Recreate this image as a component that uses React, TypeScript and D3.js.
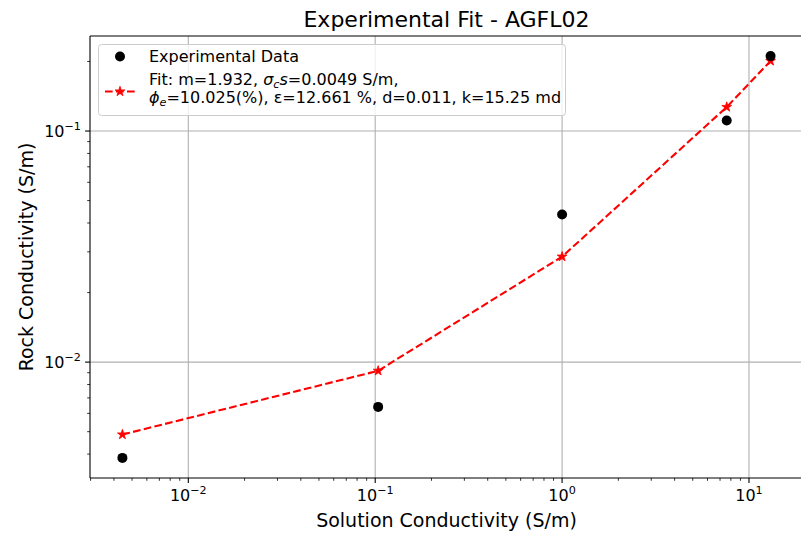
import * as d3 from 'd3'

const width = 801,
      height = 536,
      margin = { top: 36, right: -2, bottom: 58, left: 90 },
      font = 'DejaVu Sans, sans-serif'

// measured sample (solution conductivity vs rock conductivity, S/m)
const expX = [0.00444, 0.1037, 1.0, 7.6, 13.05]
const expY = [0.00385, 0.0064, 0.0435, 0.111, 0.211]

// fitted model at the same solution conductivities
const fitX = [0.00444, 0.1037, 1.0, 7.6, 13.05]
const fitY = [0.00486, 0.00917, 0.0286, 0.127, 0.201]

const xMajor = [0.01, 0.1, 1, 10]
const yMajor = [0.01, 0.1]
const xExp = ['−2', '−1', '0', '1']
const yExp = ['−2', '−1']

const title = 'Experimental Fit - AGFL02'
const xLabel = 'Solution Conductivity (S/m)'
const yLabel = 'Rock Conductivity (S/m)'

// matplotlib style 5% padding in log space
const padLog = (vals: number[]) => {
  const lo = Math.log10(d3.min(vals)!), hi = Math.log10(d3.max(vals)!)
  const p = (hi - lo) * 0.05
  return [Math.pow(10, lo - p), Math.pow(10, hi + p)]
}

const x = d3.scaleLog()
  .domain(padLog(expX.concat(fitX)))
  .range([margin.left, width - margin.right])

const y = d3.scaleLog()
  .domain(padLog(expY.concat(fitY)))
  .range([height - margin.bottom, margin.top])

const minorTicks = (scale: any) => {
  const [a, b] = scale.domain()
  const out: number[] = []
  for (let e = Math.floor(Math.log10(a)); e <= Math.ceil(Math.log10(b)); e++) {
    for (let m = 2; m <= 9; m++) {
      const v = m * Math.pow(10, e)
      if (v >= a && v <= b) out.push(v)
    }
  }
  return out
}

const fitLine = d3.line<number>()
  .x((d, i) => x(fitX[i]))
  .y(d => y(d))

const star = d3.symbol().type(d3.symbolStar).size(30)()

export default function App() {
  const x0 = margin.left, x1 = width - margin.right
  const y0 = height - margin.bottom, y1 = margin.top
  const cx = (x0 + x1) / 2

  return (
    <svg width={width} height={height}
      style={{ position: 'absolute', left: 0, top: 0, background: '#fff' }}
      fontFamily={font}>
      <defs>
        <clipPath id='plot'>
          <rect x={x0} y={y1} width={x1 - x0} height={y0 - y1} />
        </clipPath>
      </defs>

      <g className='grid' stroke='#b0b0b0' strokeWidth='1.1'>
        { xMajor.map(v => <line key={'gx' + v} x1={x(v)} x2={x(v)} y1={y1} y2={y0} />) }
        { yMajor.map(v => <line key={'gy' + v} x1={x0} x2={x1} y1={y(v)} y2={y(v)} />) }
      </g>

      <g className='fit' clipPath='url(#plot)'>
        <path d={fitLine(fitY) || ''} fill='none' stroke='#ff0000' strokeWidth='2.1'
          strokeDasharray='7.7 3.3' />
        { fitY.map((v, i) =>
          <path key={'s' + i} d={star} fill='#ff0000' stroke='#ff0000' strokeWidth='0.8'
            transform={`translate(${x(fitX[i])},${y(v)})`} />
        )}
      </g>

      <g className='data'>
        { expY.map((v, i) =>
          <circle key={'c' + i} cx={x(expX[i])} cy={y(v)} r='5' fill='#000' />
        )}
      </g>

      <g className='spines' stroke='#000' strokeWidth='1.1' fill='none'>
        <line x1={x0} x2={x0} y1={y1} y2={y0} />
        <line x1={x0} x2={x1} y1={y0} y2={y0} />
        <line x1={x0} x2={x1} y1={y1} y2={y1} />
      </g>

      <g className='x-axis' stroke='#000' strokeWidth='1.1'>
        { xMajor.map(v => <line key={'xt' + v} x1={x(v)} x2={x(v)} y1={y0} y2={y0 + 4.9} />) }
        { minorTicks(x).map(v => <line key={'xm' + v} x1={x(v)} x2={x(v)} y1={y0} y2={y0 + 2.8} strokeWidth='0.8' />) }
      </g>
      { xMajor.map((v, i) =>
        <text key={'xl' + v} x={x(v)} y={y0 + 23} textAnchor='middle' fontSize='16' fill='#000'>
          10<tspan dy='-7' fontSize='11.2'>{xExp[i]}</tspan>
        </text>
      )}

      <g className='y-axis' stroke='#000' strokeWidth='1.1'>
        { yMajor.map(v => <line key={'yt' + v} x1={x0} x2={x0 - 4.9} y1={y(v)} y2={y(v)} />) }
        { minorTicks(y).map(v => <line key={'ym' + v} x1={x0} x2={x0 - 2.8} y1={y(v)} y2={y(v)} strokeWidth='0.8' />) }
      </g>
      { yMajor.map((v, i) =>
        <text key={'yl' + v} x={x0 - 9} y={y(v) + 6} textAnchor='end' fontSize='16' fill='#000'>
          10<tspan dy='-7' fontSize='11.2'>{yExp[i]}</tspan>
        </text>
      )}

      <text x={cx} y={27} textAnchor='middle' fontSize='22' fill='#000'>{title}</text>
      <text x={cx} y={527} textAnchor='middle' fontSize='19' fill='#000'>{xLabel}</text>
      <text transform={`translate(33,${(y0 + y1) / 2}) rotate(-90)`} textAnchor='middle'
        fontSize='19' fill='#000'>{yLabel}</text>

      <g className='legend' fontSize='16' fill='#000'>
        <rect x='98.5' y='44.5' width='467' height='71' rx='3' fill='#fff' fillOpacity='0.8' stroke='#cccccc' />
        <circle cx='120' cy='56.5' r='5' fill='#000' />
        <text x='149' y='62'>Experimental Data</text>
        <line x1='105' x2='135' y1='91.5' y2='91.5' stroke='#ff0000' strokeWidth='2.1' strokeDasharray='7.7 3.3' />
        <path d={star} fill='#ff0000' stroke='#ff0000' strokeWidth='0.8' transform='translate(120,91.5)' />
        <text x='149' y='85'>
          Fit: m=1.932, <tspan fontStyle='italic'>σ</tspan><tspan fontStyle='italic' fontSize='11.2' dy='3'>c</tspan><tspan fontStyle='italic' dy='-3'>s</tspan>=0.0049 S/m,
        </text>
        <text x='149' y='102.5'>
          <tspan fontStyle='italic'>ϕ</tspan><tspan fontStyle='italic' fontSize='11.2' dy='3'>e</tspan><tspan dy='-3'>=10.025(%), ε=12.661 %, d=0.011, k=15.25 md</tspan>
        </text>
      </g>
    </svg>
  )
}
